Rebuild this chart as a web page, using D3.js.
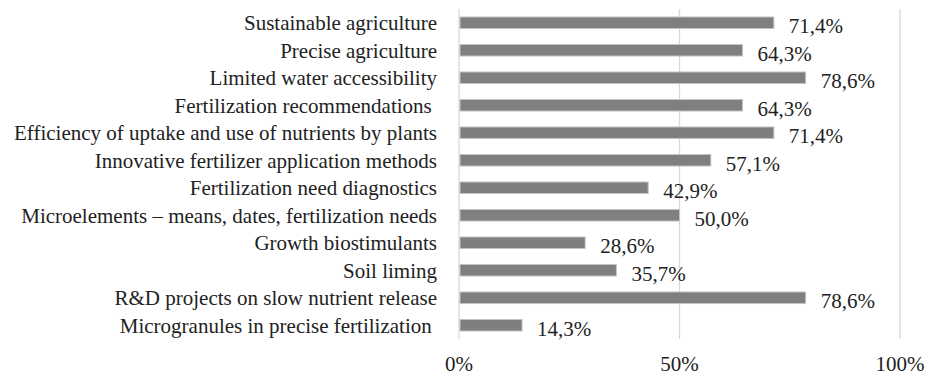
<!DOCTYPE html>
<html>
<head>
<meta charset="utf-8">
<script src="https://cdn.jsdelivr.net/npm/d3@7/dist/d3.min.js"></script>
<style>
  html, body { margin: 0; padding: 0; background: #ffffff; }
  svg { display: block; }
  text { font-family: "Liberation Serif", "Times New Roman", serif; fill: #222; }
</style>
</head>
<body>
<svg id="chart" width="926" height="376"></svg>
<script>
// Topics, listed top to bottom
const categories = [
  "Sustainable agriculture",
  "Precise agriculture",
  "Limited water accessibility",
  "Fertilization recommendations ",
  "Efficiency of uptake and use of nutrients by plants",
  "Innovative fertilizer application methods",
  "Fertilization need diagnostics",
  "Microelements \u2013 means, dates, fertilization needs",
  "Growth biostimulants",
  "Soil liming",
  "R&D projects on slow nutrient release",
  "Microgranules in precise fertilization "
];
// Share of responses, percent
const values = [71.4, 64.3, 78.6, 64.3, 71.4, 57.1, 42.9, 50.0, 28.6, 35.7, 78.6, 14.3];
const tickValues = [0, 50, 100];
const tickLabels = ["0%", "50%", "100%"];

const svg = d3.select("#chart");
const margin = { left: 459, right: 26, top: 9, bottom: 37 };
const W = 926, H = 376;
const fontSize = 21;

const x = d3.scaleLinear().domain([0, 100]).range([margin.left, W - margin.right]);
const y = d3.scaleBand().domain(categories).range([margin.top, H - margin.bottom]).paddingInner(0.58).paddingOuter(0.29);
const mid = name => y(name) + y.bandwidth() / 2;

// Vertical gridlines
svg.append("g")
  .selectAll("line")
  .data(tickValues)
  .join("line")
  .attr("x1", d => x(d)).attr("x2", d => x(d))
  .attr("y1", margin.top).attr("y2", H - margin.bottom)
  .attr("stroke", "#d9d9d9")
  .attr("stroke-width", 1.3);

// Bars
svg.append("g")
  .selectAll("rect")
  .data(values)
  .join("rect")
  .attr("x", x(0) + 1)
  .attr("y", (d, i) => y(categories[i]))
  .attr("width", d => x(d) - x(0) - 1)
  .attr("height", y.bandwidth())
  .attr("fill", "#7f7f7f")
  .attr("stroke", "#c4c4c4")
  .attr("stroke-width", 1);

// Value labels
svg.append("g")
  .selectAll("text")
  .data(values)
  .join("text")
  .attr("x", d => x(d) + 15)
  .attr("y", (d, i) => mid(categories[i]) + 10.5)
  .attr("font-size", fontSize)
  .text(d => d.toFixed(1).replace(".", ",") + "%");

// Category labels
svg.append("g")
  .selectAll("text")
  .data(categories)
  .join("text")
  .attr("x", 437)
  .attr("y", d => mid(d) + 7.5)
  .attr("text-anchor", "end")
  .attr("font-size", fontSize)
  .attr("xml:space", "preserve")
  .style("white-space", "pre")
  .text(d => d);

// Axis tick labels
svg.append("g")
  .selectAll("text")
  .data(tickValues)
  .join("text")
  .attr("x", d => x(d))
  .attr("y", 371)
  .attr("text-anchor", "middle")
  .attr("font-size", fontSize)
  .text((d, i) => tickLabels[i]);
</script>
</body>
</html>
